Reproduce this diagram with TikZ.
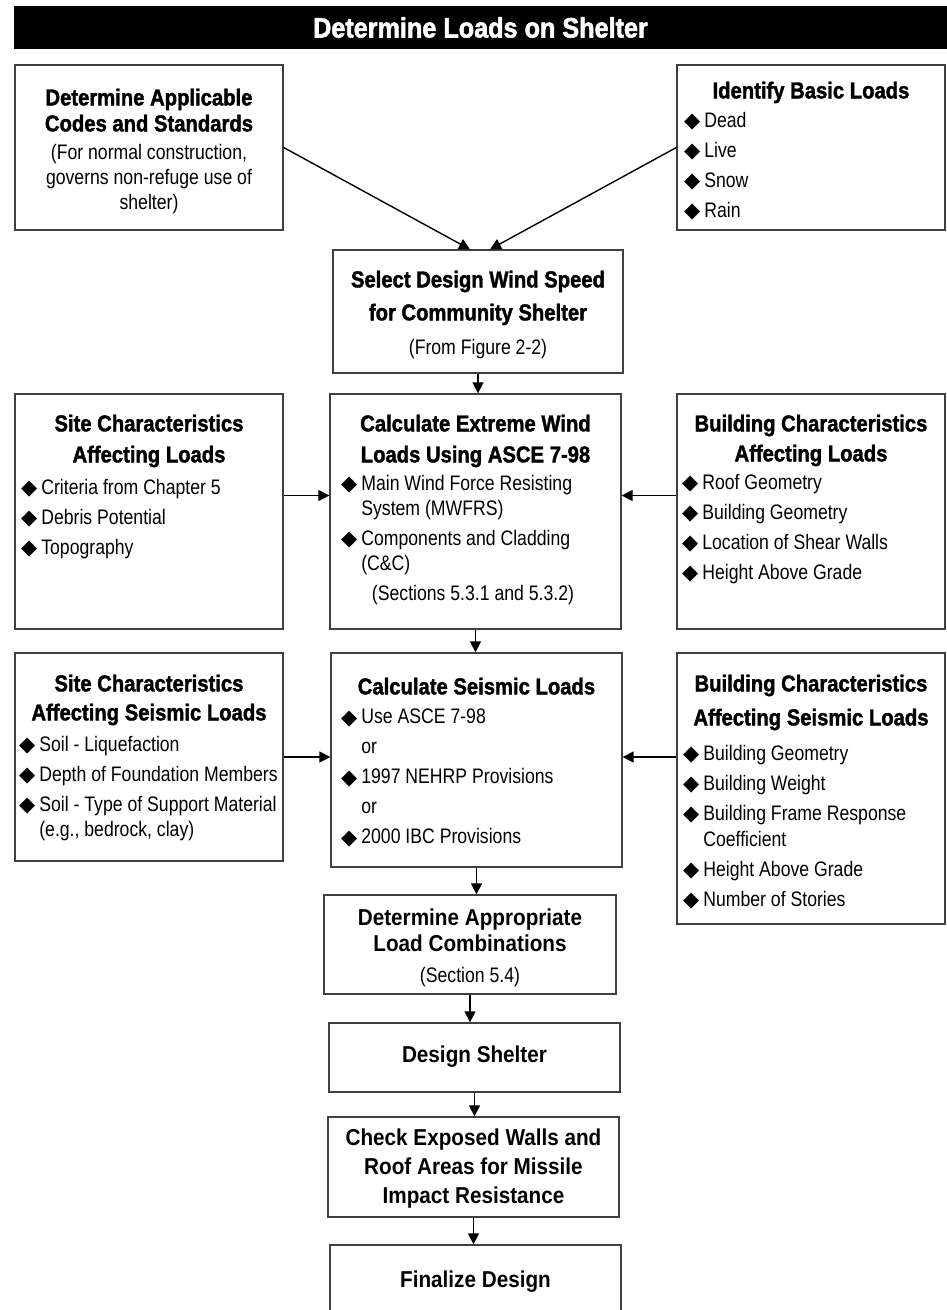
\documentclass[tikz,border=0pt]{standalone}
\usepackage{fontspec}
\setmainfont{Liberation Sans}[FakeStretch=0.84]
\newfontfamily\headfont{Liberation Sans Bold}[FakeStretch=0.88,FakeBold=1.6]
\newfontfamily\lowfont{Liberation Sans Bold}[FakeStretch=0.9]
\newfontfamily\titlefont{Liberation Sans Bold}[FakeStretch=0.9,FakeBold=2]
\newfontfamily\symfont{DejaVu Sans}
\usetikzlibrary{arrows.meta}
\newcommand{\itemdia}{{\symfont\fontsize{21}{21}\selectfont\raisebox{-0.5pt}{◆}}\hspace{4pt}}
\begin{document}
\begin{tikzpicture}[x=1pt, y=-1pt,
  box/.style={draw=black!75, line width=1.3pt, inner sep=0pt},
  head/.style={anchor=north, align=center, inner sep=0pt, font=\headfont\fontsize{23}{30}\selectfont},
  low/.style={anchor=north, align=center, inner sep=0pt, font=\lowfont\fontsize{23}{29}\selectfont},
  note/.style={anchor=north, align=center, inner sep=0pt, font=\fontsize{21}{25}\selectfont},
  list/.style={anchor=north west, align=left, inner sep=0pt, font=\fontsize{21}{30}\selectfont},
  link/.style={line width=1.4pt, -{Triangle[length=11pt, width=11pt]}}]
\useasboundingbox (0,0) rectangle (947,1310);
\node[fill=black, text=white, minimum width=933pt, minimum height=43pt, inner sep=0pt, font=\titlefont\fontsize{28}{30}\selectfont] (title) at (480.5,27.5) {Determine Loads on Shelter};

\node[box, minimum width=268pt, minimum height=165pt] (codes) at (149,147.5) {};
\node[head] (codes-h) at (149,88.5) {Determine Applicable\\[-4pt]Codes and Standards};
\node[note] (codes-n) at (149,144) {(For normal construction,\\governs non-refuge use of\\shelter)};

\node[box, minimum width=268pt, minimum height=165pt] (basic) at (811,147.5) {};
\node[head] (basic-h) at (811,81.5) {Identify Basic Loads};
\node[list] (basic-l) at (684,112) {\itemdia Dead\\ \itemdia Live\\ \itemdia Snow\\ \itemdia Rain};

\node[box, minimum width=290pt, minimum height=123pt] (speed) at (478,311.5) {};
\node[head] (speed-h) at (478,270.5) {Select Design Wind Speed\\[3pt]for Community Shelter};
\node[note] (speed-n) at (478,339) {(From Figure 2-2)};

\node[box, minimum width=268pt, minimum height=235pt] (site) at (149,511.5) {};
\node[head] (site-h) at (149,414.5) {Site Characteristics\\[1pt]Affecting Loads};
\node[list] (site-l) at (21,479) {\itemdia Criteria from Chapter 5\\ \itemdia Debris Potential\\ \itemdia Topography};

\node[box, minimum width=291pt, minimum height=235pt] (wind) at (475.5,511.5) {};
\node[head] (wind-h) at (475.5,414.5) {Calculate Extreme Wind\\[1pt]Loads Using ASCE 7-98};
\node[list] (wind-l) at (341,475) {\itemdia Main Wind Force Resisting\\[-5pt] \phantom{\itemdia}System (MWFRS)\\ \itemdia Components and Cladding\\[-5pt] \phantom{\itemdia}(C\&C)};
\node[note] (wind-n) at (473,585) {(Sections 5.3.1 and 5.3.2)};

\node[box, minimum width=268pt, minimum height=235pt] (bldg) at (811,511.5) {};
\node[head] (bldg-h) at (811,414.5) {Building Characteristics\\Affecting Loads};
\node[list] (bldg-l) at (682,474) {\itemdia Roof Geometry\\ \itemdia Building Geometry\\ \itemdia Location of Shear Walls\\ \itemdia Height Above Grade};

\node[box, minimum width=268pt, minimum height=208pt] (siteseis) at (149,757) {};
\node[head] (siteseis-h) at (149,674.5) {Site Characteristics\\[-1pt]Affecting Seismic Loads};
\node[list] (siteseis-l) at (19,736) {\itemdia Soil - Liquefaction\\ \itemdia Depth of Foundation Members\\ \itemdia Soil - Type of Support Material\\[-5pt] \phantom{\itemdia}(e.g., bedrock, clay)};

\node[box, minimum width=291pt, minimum height=214pt] (seismic) at (476.5,760) {};
\node[head] (seismic-h) at (476.5,677.5) {Calculate Seismic Loads};
\node[list] (seismic-l) at (341,709) {\itemdia Use ASCE 7-98\\ \phantom{\itemdia}or\\ \itemdia 1997 NEHRP Provisions\\ \phantom{\itemdia}or\\ \itemdia 2000 IBC Provisions};

\node[box, minimum width=268pt, minimum height=271pt] (bldgseis) at (811,788.5) {};
\node[head] (bldgseis-h) at (811,674.5) {Building Characteristics\\[4pt]Affecting Seismic Loads};
\node[list] (bldgseis-l) at (683,745) {\itemdia Building Geometry\\ \itemdia Building Weight\\ \itemdia Building Frame Response\\[-4pt] \phantom{\itemdia}Coefficient\\ \itemdia Height Above Grade\\ \itemdia Number of Stories};

\node[box, minimum width=292pt, minimum height=99pt] (combo) at (470,944.5) {};
\node[low] (combo-h) at (470,908.5) {Determine Appropriate\\[-3pt]Load Combinations};
\node[note] (combo-n) at (470,967) {(Section 5.4)};

\node[box, minimum width=291pt, minimum height=69pt] (design) at (474.5,1057.5) {};
\node[low] (design-h) at (474.5,1045.5) {Design Shelter};

\node[box, minimum width=291pt, minimum height=100pt] (missile) at (473.5,1167) {};
\node[low] (missile-h) at (473.5,1128.5) {Check Exposed Walls and\\Roof Areas for Missile\\Impact Resistance};

\node[box, minimum width=291pt, minimum height=95pt] (final) at (475.5,1292.5) {};
\node[low] (final-h) at (475.5,1270.5) {Finalize Design};

\draw[link] (codes.east) -- ([xshift=-8pt]speed.north);
\draw[link] (basic.west) -- ([xshift=12pt]speed.north);
\draw[link] (speed.south) -- (speed.south |- wind.north);
\draw[link] ([yshift=16pt]site.east) -- ([yshift=16pt]site.east -| wind.west);
\draw[link] ([yshift=16pt]bldg.west) -- ([yshift=16pt]bldg.west -| wind.east);
\draw[link] (wind.south) -- (wind.south |- seismic.north);
\draw[link] (siteseis.east) -- (siteseis.east -| seismic.west);
\draw[link] (siteseis.east -| bldgseis.west) -- (siteseis.east -| seismic.east);
\draw[link] (seismic.south) -- (seismic.south |- combo.north);
\draw[link] (combo.south) -- (combo.south |- design.north);
\draw[link] (design.south) -- (design.south |- missile.north);
\draw[link] (missile.south) -- (missile.south |- final.north);
\end{tikzpicture}
\end{document}
